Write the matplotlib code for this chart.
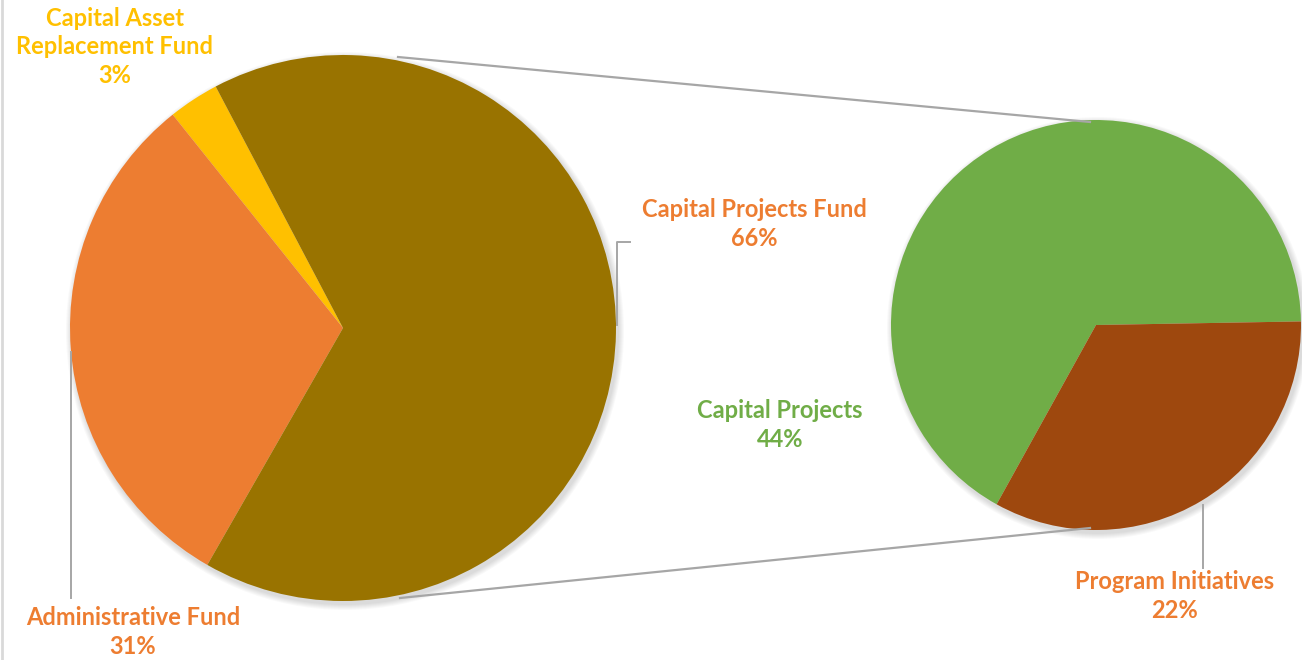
import matplotlib.pyplot as plt
from matplotlib.patches import Circle

# budget split across funds (main pie) and the capital projects fund breakdown
fund_names = ["Capital Asset\nReplacement Fund", "Administrative Fund", "Capital Projects Fund"]
fund_pct = [3, 31, 66]
fund_colors = ["#FFC000", "#ED7D31", "#997300"]

project_names = ["Capital Projects", "Program Initiatives"]
project_pct = [44, 22]
project_colors = ["#70AD47", "#9E480E"]

W, H = 1302, 660
fig = plt.figure(figsize=(W / 100, H / 100), dpi=100)
ax = fig.add_axes([0, 0, 1, 1])

main_c, main_r = (343, 332), 273
sub_c, sub_r = (1096, 335), 205

# soft drop shadows behind the pies
for c, r in [(main_c, main_r), (sub_c, sub_r)]:
    for k in range(6):
        ax.add_patch(Circle((c[0] + 2, c[1] - 3), r + 1 + k, color="black",
                            alpha=0.025, lw=0, zorder=0))

ax.pie(fund_pct, colors=fund_colors, startangle=117.8, counterclock=True,
       center=main_c, radius=main_r, wedgeprops=dict(linewidth=0),
       normalize=True, frame=False)
ax.pie(project_pct, colors=project_colors, startangle=1, counterclock=True,
       center=sub_c, radius=sub_r, wedgeprops=dict(linewidth=0),
       normalize=True, frame=False)

ax.set_xlim(0, W)
ax.set_ylim(0, H)
ax.set_aspect("equal")
ax.axis("off")

grey = "#A6A6A6"
# connector lines between the pies
ax.plot([398, 1090], [H - 57, H - 122], color=grey, lw=1.6, zorder=1)
ax.plot([400, 1090], [H - 598, H - 528], color=grey, lw=1.6, zorder=1)

# leader lines
ax.plot([617, 617, 630], [H - 325, H - 242, H - 242], color=grey, lw=1.4)
ax.plot([71, 71], [H - 352, H - 598], color=grey, lw=1.4)
ax.plot([1203, 1203], [H - 505, H - 568], color=grey, lw=1.4)

# left border
ax.plot([2, 2], [0, H], color="#D9D9D9", lw=2)

lbl = dict(fontsize=17, fontweight="bold", family="Lato", ha="center",
           va="center", linespacing=1.3)
ax.text(115, H - 47, f"{fund_names[0]}\n{fund_pct[0]}%", color="#FFC000", **lbl)
ax.text(754, H - 224, f"{fund_names[2]}\n{fund_pct[2]}%", color="#ED7D31", **lbl)
ax.text(133, H - 632, f"{fund_names[1]}\n{fund_pct[1]}%", color="#ED7D31", **lbl)
ax.text(780, H - 425, f"{project_names[0]}\n{project_pct[0]}%", color="#70AD47", **lbl)
ax.text(1175, H - 596, f"{project_names[1]}\n{project_pct[1]}%", color="#ED7D31", **lbl)

fig.savefig("out.png", dpi=100)
